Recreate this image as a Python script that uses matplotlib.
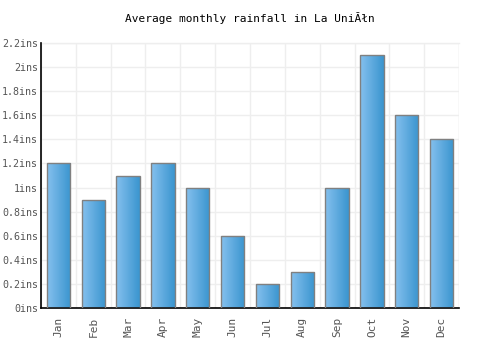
import numpy as np
import matplotlib
matplotlib.use('Agg')
import matplotlib.pyplot as plt
from matplotlib.colors import LinearSegmentedColormap

months = ['Jan', 'Feb', 'Mar', 'Apr', 'May', 'Jun', 'Jul', 'Aug', 'Sep', 'Oct', 'Nov', 'Dec']
rainfall = [1.2, 0.9, 1.1, 1.2, 1.0, 0.6, 0.2, 0.3, 1.0, 2.1, 1.6, 1.4]
yticks = [0, 0.2, 0.4, 0.6, 0.8, 1.0, 1.2, 1.4, 1.6, 1.8, 2.0, 2.2]
ylabels = ['0ins', '0.2ins', '0.4ins', '0.6ins', '0.8ins', '1ins', '1.2ins',
           '1.4ins', '1.6ins', '1.8ins', '2ins', '2.2ins']

plt.rcParams['font.family'] = ['DejaVu Sans Mono']

fig = plt.figure(figsize=(5, 3.5), dpi=100)
ax = fig.add_axes([0.082, 0.12, 0.836, 0.757])

x = np.arange(len(months))
w = 0.67
cmap = LinearSegmentedColormap.from_list('bar', ['#85c0ee', '#3a95cf'])
grad = np.linspace(0, 1, 64).reshape(1, -1)
bars = ax.bar(x, rainfall, width=w, color='none', edgecolor='#808080', linewidth=1, zorder=3)
for b in bars:
    bx, by = b.get_x(), b.get_y()
    im = ax.imshow(grad, cmap=cmap, aspect='auto', zorder=2,
                   extent=[bx, bx + b.get_width(), by, by + b.get_height()])
    im.set_clip_path(b)

ax.set_xlim(-0.5, 11.5)
ax.set_ylim(0, 2.2)
ax.set_xticks(x)
ax.set_xticklabels(months, rotation=90, fontsize=8, color='#555555')
ax.set_yticks(yticks)
ax.set_yticklabels(ylabels, fontsize=7.2, color='#555555')
ax.set_xticks(np.arange(-0.5, 12, 1), minor=True)
ax.tick_params(axis='x', which='both', length=0, pad=6)
ax.tick_params(axis='y', length=0, pad=2)
ax.grid(True, which='minor', axis='x', color='#eeeeee', linewidth=1, zorder=0)
ax.grid(True, which='major', axis='y', color='#eeeeee', linewidth=1, zorder=0)
ax.set_axisbelow(True)
for s in ['top', 'right']:
    ax.spines[s].set_visible(False)
ax.spines['left'].set_linewidth(1.2)
ax.spines['bottom'].set_linewidth(1.2)
ax.plot([11.5, 11.5], [0, 2.2], color='#eeeeee', lw=1, zorder=0)
ax.plot([-0.5, 11.5], [2.2, 2.2], color='#eeeeee', lw=1, zorder=0, clip_on=False)

fig.text(0.5, 0.948, 'Average monthly rainfall in La Uni\u0102\u0142n',
         ha='center', va='center', fontsize=8)

fig.savefig('out.png', dpi=100)
